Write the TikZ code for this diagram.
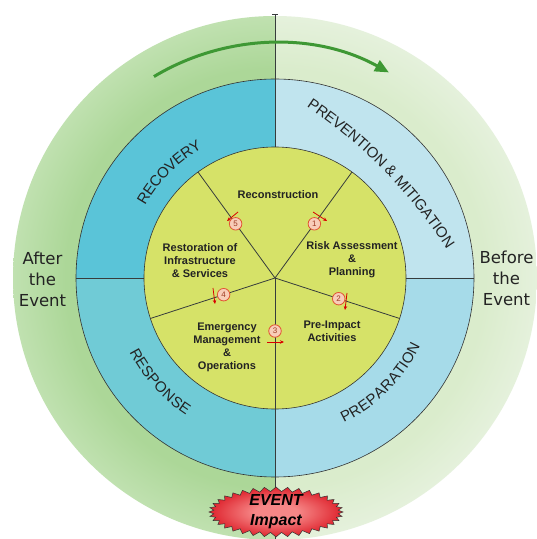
\documentclass[tikz,border=0pt]{standalone}
\usepackage{fontspec}
\setmainfont{Liberation Sans}
\newfontfamily\dvs{DejaVu Sans}
\usetikzlibrary{arrows.meta,decorations.text,shapes.symbols,calc}
\definecolor{gL}{RGB}{172,215,152}
\definecolor{gLo}{RGB}{192,225,176}
\definecolor{gR}{RGB}{218,236,204}
\definecolor{gRo}{RGB}{229,241,220}
\definecolor{bTL}{RGB}{90,196,216}
\definecolor{bBL}{RGB}{112,203,214}
\definecolor{bTR}{RGB}{192,228,238}
\definecolor{bBR}{RGB}{166,219,233}
\definecolor{yel}{RGB}{214,226,104}
\definecolor{lin}{RGB}{55,60,60}
\definecolor{arrG}{RGB}{62,152,52}
\definecolor{numR}{RGB}{225,85,50}
\definecolor{numF}{RGB}{248,205,185}
\definecolor{txt}{RGB}{35,35,35}
\definecolor{evR}{RGB}{222,35,45}
\definecolor{evI}{RGB}{246,135,135}
\pgfdeclareradialshading{greenL}{\pgfpoint{0bp}{0bp}}{color(0bp)=(gL); color(20bp)=(gL); color(25bp)=(gLo); color(50bp)=(gLo)}
\pgfdeclareradialshading{greenR}{\pgfpoint{0bp}{0bp}}{color(0bp)=(gR); color(20bp)=(gR); color(25bp)=(gRo); color(50bp)=(gRo)}
\pgfdeclareradialshading{evshade}{\pgfpoint{0bp}{0bp}}{color(0bp)=(evI); color(8bp)=(evI); color(25bp)=(evR); color(50bp)=(evR)}
\newcommand\lblfont{\color{txt}\fontsize{15}{15}\selectfont}
\tikzset{
  sep/.style={draw=lin, line width=0.8pt},
  ringline/.style={draw=black!80, line width=0.6pt},
  inner/.style={font=\fontsize{11}{13}\selectfont\bfseries, text=txt, align=center},
  side/.style={font=\dvs\fontsize{16.5}{21}\selectfont, text=txt, align=center},
  num/.style={circle, draw=numR, fill=numF, line width=0.8pt, inner sep=0pt, minimum size=12.5pt, font=\fontsize{8}{8}\selectfont, text=numR!70!black},
  tickarr/.style={draw=red!85!black, line width=0.8pt, -{Stealth[length=4pt,width=3.5pt]}},
  curved/.style={decorate, decoration={text along path, text align=center, raise=-5.3pt, text={#1}}}
}
\begin{document}
\begin{tikzpicture}[x=1pt,y=1pt]
\fill[white] (0,0) rectangle (537,539);
\useasboundingbox (0,0) rectangle (537,539);
\coordinate (C) at (275,261);
\begin{scope}
\clip (0,0) rectangle (537,539);
% outer green halves
\begin{scope}
\clip ($(C)+(-280,-280)$) rectangle ($(C)+(0,280)$);
\shade[shading=greenL] (C) circle (262);
\end{scope}
\begin{scope}
\clip ($(C)+(0,-280)$) rectangle ($(C)+(280,280)$);
\shade[shading=greenR] (C) circle (262);
\end{scope}
% blue quadrants
\fill[bTR] (C) -- ($(C)+(0:199)$) arc[start angle=0,end angle=90,radius=199] -- cycle;
\fill[bTL] (C) -- ($(C)+(90:199)$) arc[start angle=90,end angle=180,radius=199] -- cycle;
\fill[bBL] (C) -- ($(C)+(180:199)$) arc[start angle=180,end angle=270,radius=199] -- cycle;
\fill[bBR] (C) -- ($(C)+(270:199)$) arc[start angle=270,end angle=360,radius=199] -- cycle;
\draw[ringline] (C) circle (199);
\fill[yel] (C) circle (131);
\draw[ringline] (C) circle (131);
% dividing lines
\coordinate (top) at ($(C)+(90:264)$);
\coordinate (topin) at ($(C)+(90:131)$);
\coordinate (bot) at ($(C)+(270:266)$);
\draw[sep, {Bar[width=6pt]}-] (top) -- (topin);
\draw[sep] (C) -- (bot);
\coordinate (rin) at ($(C)+(0:131)$);
\coordinate (rout) at ($(C)+(0:199)$);
\coordinate (lin) at ($(C)+(180:131)$);
\coordinate (lout) at ($(C)+(180:199)$);
\draw[sep] (rin) -- (rout);
\draw[sep] (lin) -- (lout);
\foreach \a in {54,126,198,342}{
  \coordinate (s\a) at ($(C)+(\a:131)$);
  \draw[sep] (C) -- (s\a);
}
% curved labels
\path[curved={|\lblfont|RECOVERY}] ($(C)+(165:154)$) arc[start angle=165,end angle=105,radius=154];
\coordinate (O1) at ($(C)+(44.5:-342)$);
\path[curved={|\lblfont|PREVENTION {\&} MITIGATION}] ($(O1)+(59.5:500)$) arc[start angle=59.5,end angle=29.5,radius=500];
\path[curved={|\lblfont|PREPARATION}] ($(C)+(-74.8:155)$) arc[start angle=-74.8,end angle=-14.8,radius=155];
\path[curved={|\lblfont|RESPONSE}] ($(C)+(192:158)$) arc[start angle=192,end angle=252,radius=158];
% green arrow
\coordinate (ga) at ($(C)+(121:235)$);
\draw[arrG, line width=3pt, -{Triangle[length=14pt,width=12pt]}] (ga) arc[start angle=121,end angle=61,radius=235];
% inner labels
\node[inner] (recon) at (278,344) {Reconstruction};
\node[inner] (risk) at (352,279) {Risk Assessment\\\&\\Planning};
\node[inner] (pre) at (332,208) {Pre-Impact\\Activities};
\node[inner] (emer) at (227,192) {Emergency\\Management\\\&\\Operations};
\node[inner] (rest) at (200,278) {Restoration of\\Infrastructure\\\& Services};
\node[side] (after) at (42.5,260) {After\\the\\Event};
\node[side] (before) at (506.5,261) {Before\\the\\Event};
% small arrows
\coordinate (a1s) at (313,327); \coordinate (a1e) at (327,318);
\coordinate (a2s) at (347,246); \coordinate (a2e) at (345,229);
\coordinate (a3s) at (267,197); \coordinate (a3e) at (284,197);
\coordinate (a4s) at (213,251); \coordinate (a4e) at (215,235);
\coordinate (a5s) at (238,327); \coordinate (a5e) at (227,318);
\draw[tickarr] (a1s) -- (a1e);
\draw[tickarr] (a2s) -- (a2e);
\draw[tickarr] (a3s) -- (a3e);
\draw[tickarr] (a4s) -- (a4e);
\draw[tickarr] (a5s) -- (a5e);
% numbers
\node[num] (n1) at ($(C)+(54:67)$) {1};
\node[num] (n2) at ($(C)+(-18:67)$) {2};
\node[num] (n3) at ($(C)+(270:53)$) {3};
\node[num] (n4) at ($(C)+(198:54)$) {4};
\node[num] (n5) at ($(C)+(126:67)$) {5};
% event
\node[starburst, starburst points=36, starburst point height=4.5pt, random starburst=0, minimum width=134pt, minimum height=50pt, draw=black!80, line width=0.5pt, shade, shading=evshade, inner sep=0pt] (ev) at (276,27) {};
\node[font=\fontsize{16}{20}\selectfont\bfseries\itshape, align=center, text=black] (evt) at (ev) {EVENT\\Impact};
\end{scope}
\end{tikzpicture}
\end{document}
